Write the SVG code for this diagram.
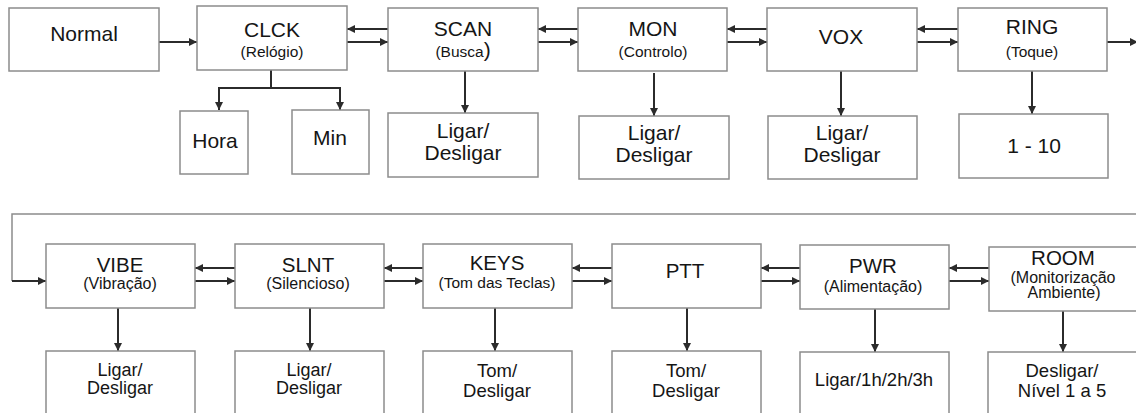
<svg xmlns="http://www.w3.org/2000/svg" width="1136" height="413" viewBox="0 0 1136 413">
<style>
.box{fill:#fff;stroke:#8c8c8c;stroke-width:1.5}
text{font-family:"Liberation Sans",Arial,sans-serif;fill:#151515;text-anchor:middle}
.t{font-size:21px}
.s{font-size:15.5px}
.b{font-size:20.5px}
.bs{font-size:16px}
.v{font-size:21px}
.bv{font-size:18.5px}
.bl{font-size:18px}
.c{stroke:#2b2b2b;stroke-width:2;fill:none}
.g{stroke:#8c8c8c;stroke-width:1.5;fill:none}
</style>
<defs>
<marker id="ah" viewBox="0 0 8 8" refX="8" refY="4" markerWidth="8" markerHeight="8" markerUnits="userSpaceOnUse" orient="auto"><path d="M0,0 L8,4 L0,8 z" fill="#2b2b2b"/></marker>
</defs>
<rect width="1136" height="413" fill="#fff"/>
<g id="connectors">
<line class="c" x1="159" y1="42" x2="197" y2="42" marker-end="url(#ah)"/>
<polyline class="c" points="271,70 271,88"/>
<polyline class="c" points="219,110 219,88 340,88 340,110" marker-end="url(#ah)"/>
<line class="c" x1="219" y1="88" x2="219" y2="110" marker-end="url(#ah)"/>
<line class="c" x1="388" y1="29" x2="347" y2="29" marker-end="url(#ah)"/>
<line class="c" x1="347" y1="42" x2="388" y2="42" marker-end="url(#ah)"/>
<line class="c" x1="578" y1="29" x2="538" y2="29" marker-end="url(#ah)"/>
<line class="c" x1="538" y1="42" x2="578" y2="42" marker-end="url(#ah)"/>
<line class="c" x1="767" y1="29" x2="727" y2="29" marker-end="url(#ah)"/>
<line class="c" x1="727" y1="42" x2="767" y2="42" marker-end="url(#ah)"/>
<line class="c" x1="958" y1="29" x2="917" y2="29" marker-end="url(#ah)"/>
<line class="c" x1="917" y1="42" x2="958" y2="42" marker-end="url(#ah)"/>
<line class="c" x1="1107" y1="42" x2="1138" y2="42" marker-end="url(#ah)"/>
<line class="c" x1="465" y1="71" x2="465" y2="113" marker-end="url(#ah)"/>
<line class="c" x1="654" y1="73" x2="654" y2="116" marker-end="url(#ah)"/>
<line class="c" x1="841" y1="71" x2="841" y2="116" marker-end="url(#ah)"/>
<line class="c" x1="1032" y1="71" x2="1032" y2="114" marker-end="url(#ah)"/>
<polyline class="g" points="1136,214 12,214 12,281"/>
<line class="c" x1="12" y1="281" x2="46" y2="281" marker-end="url(#ah)"/>
<line class="c" x1="235" y1="268" x2="195" y2="268" marker-end="url(#ah)"/>
<line class="c" x1="195" y1="281" x2="235" y2="281" marker-end="url(#ah)"/>
<line class="c" x1="423" y1="268" x2="384" y2="268" marker-end="url(#ah)"/>
<line class="c" x1="384" y1="281" x2="423" y2="281" marker-end="url(#ah)"/>
<line class="c" x1="612" y1="268" x2="572" y2="268" marker-end="url(#ah)"/>
<line class="c" x1="572" y1="281" x2="612" y2="281" marker-end="url(#ah)"/>
<line class="c" x1="800" y1="268" x2="761" y2="268" marker-end="url(#ah)"/>
<line class="c" x1="761" y1="281" x2="800" y2="281" marker-end="url(#ah)"/>
<line class="c" x1="989" y1="268" x2="949" y2="268" marker-end="url(#ah)"/>
<line class="c" x1="949" y1="281" x2="989" y2="281" marker-end="url(#ah)"/>
<line class="c" x1="118" y1="308" x2="118" y2="351" marker-end="url(#ah)"/>
<line class="c" x1="310" y1="308" x2="310" y2="351" marker-end="url(#ah)"/>
<line class="c" x1="495" y1="308" x2="495" y2="351" marker-end="url(#ah)"/>
<line class="c" x1="687" y1="308" x2="687" y2="351" marker-end="url(#ah)"/>
<line class="c" x1="875" y1="309" x2="875" y2="352" marker-end="url(#ah)"/>
<line class="c" x1="1063" y1="311" x2="1063" y2="352" marker-end="url(#ah)"/>
</g>
<g id="normal"><rect class="box" x="9" y="8" width="150" height="63"/><text class="t" x="84" y="41">Normal</text></g>
<g id="clck"><rect class="box" x="197" y="6" width="150" height="64"/><text class="t" x="272" y="37">CLCK</text><text class="s" x="272" y="57">(Relógio)</text></g>
<g id="hora"><rect class="box" x="180" y="111" width="68" height="63"/><text class="t" x="215" y="148">Hora</text></g>
<g id="min"><rect class="box" x="292" y="110" width="77" height="64"/><text class="t" x="330" y="145">Min</text></g>
<g id="scan"><rect class="box" x="388" y="8" width="150" height="63"/><text class="t" x="463" y="36">SCAN</text><text class="s" x="463" y="57">(Busca<tspan font-size="21">)</tspan></text></g>
<g id="scan-val"><rect class="box" x="388" y="113" width="150" height="64"/><text class="v" x="463" y="138">Ligar/</text><text class="v" x="463" y="160">Desligar</text></g>
<g id="mon"><rect class="box" x="578" y="8" width="149" height="63"/><text class="t" x="653" y="36">MON</text><text class="s" x="653" y="57">(Controlo)</text></g>
<g id="mon-val"><rect class="box" x="579" y="116" width="150" height="63"/><text class="v" x="654" y="140">Ligar/</text><text class="v" x="654" y="162">Desligar</text></g>
<g id="vox"><rect class="box" x="767" y="8" width="150" height="63"/><text class="t" x="841" y="44">VOX</text></g>
<g id="vox-val"><rect class="box" x="768" y="116" width="149" height="63"/><text class="v" x="842" y="140">Ligar/</text><text class="v" x="842" y="162">Desligar</text></g>
<g id="ring"><rect class="box" x="958" y="8" width="149" height="63"/><text class="t" x="1032" y="34">RING</text><text class="s" x="1032" y="57">(Toque)</text></g>
<g id="ring-val"><rect class="box" x="959" y="114" width="149" height="64"/><text class="v" x="1034" y="153">1 - 10</text></g>
<g id="vibe"><rect class="box" x="46" y="244" width="149" height="64"/><text class="b" x="120" y="272">VIBE</text><text class="bs" x="120" y="289">(Vibração)</text></g>
<g id="vibe-val"><rect class="box" x="46" y="351" width="149" height="70"/><text class="bl" x="120" y="376">Ligar/</text><text class="bl" x="120" y="394">Desligar</text></g>
<g id="slnt"><rect class="box" x="235" y="244" width="149" height="64"/><text class="b" x="308" y="272">SLNT</text><text class="bs" x="308" y="289">(Silencioso)</text></g>
<g id="slnt-val"><rect class="box" x="235" y="351" width="149" height="70"/><text class="bl" x="309" y="376">Ligar/</text><text class="bl" x="309" y="394">Desligar</text></g>
<g id="keys"><rect class="box" x="423" y="244" width="149" height="64"/><text class="b" x="497" y="270">KEYS</text><text class="s" x="497" y="288">(Tom das Teclas)</text></g>
<g id="keys-val"><rect class="box" x="423" y="351" width="149" height="70"/><text class="bv" x="497" y="377">Tom/</text><text class="bv" x="497" y="397">Desligar</text></g>
<g id="ptt"><rect class="box" x="612" y="244" width="149" height="64"/><text class="b" x="685" y="278">PTT</text></g>
<g id="ptt-val"><rect class="box" x="612" y="351" width="149" height="70"/><text class="bv" x="686" y="377">Tom/</text><text class="bv" x="686" y="397">Desligar</text></g>
<g id="pwr"><rect class="box" x="800" y="245" width="149" height="64"/><text class="b" x="873" y="273">PWR</text><text class="bs" x="873" y="292">(Alimentação)</text></g>
<g id="pwr-val"><rect class="box" x="800" y="352" width="149" height="70"/><text class="bv" x="874" y="386" font-size="17.5">Ligar/1h/2h/3h</text></g>
<g id="room"><rect class="box" x="989" y="247" width="150" height="64"/><text class="b" x="1063" y="265">ROOM</text><text class="bs" x="1063" y="283">(Monitorização</text><text class="bs" x="1064" y="298">Ambiente)</text></g>
<g id="room-val"><rect class="box" x="988" y="352" width="151" height="70"/><text class="bv" x="1062" y="377">Desligar/</text><text class="bv" x="1062" y="397">Nível 1 a 5</text></g>
</svg>
